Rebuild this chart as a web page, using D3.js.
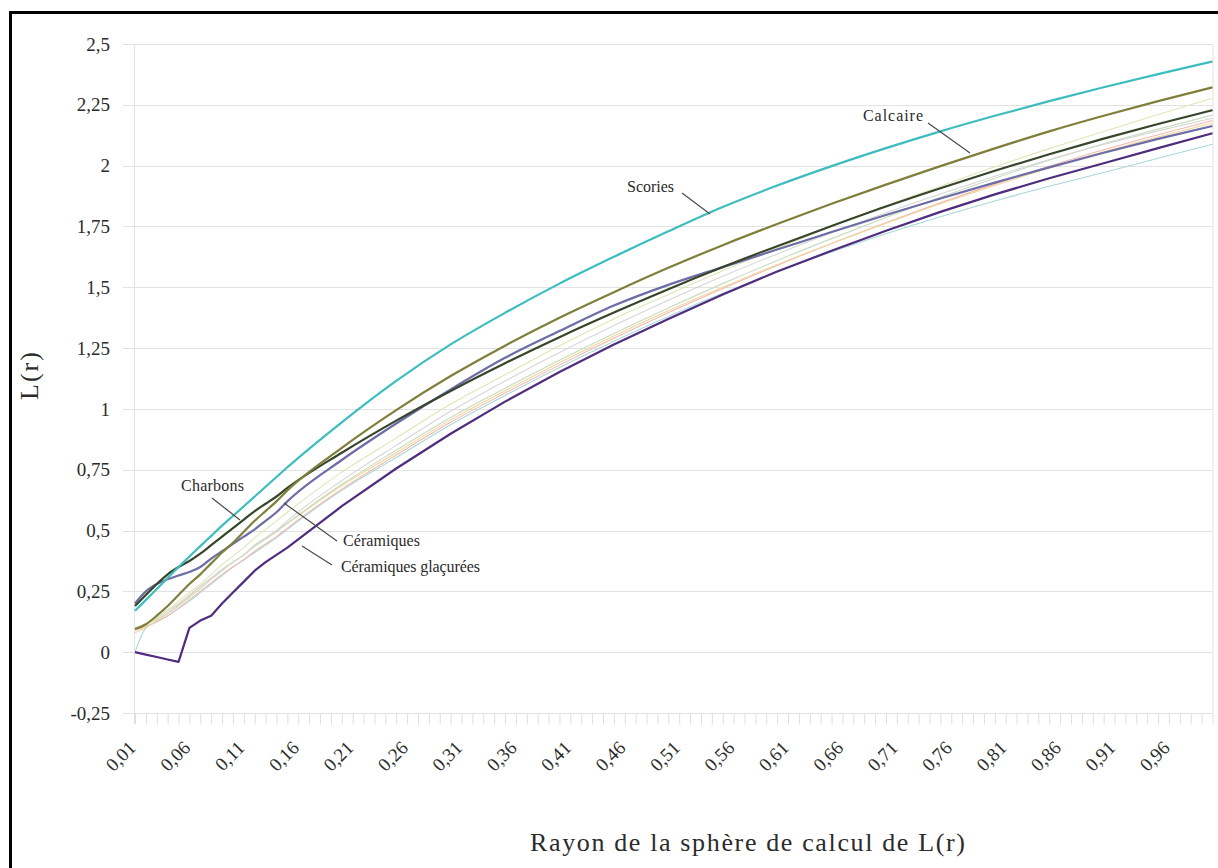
<!DOCTYPE html>
<html>
<head>
<meta charset="utf-8">
<script src="https://cdn.jsdelivr.net/npm/d3@7"></script>
<style>
  body { margin: 0; background: #fff; }
  svg { display: block; }
  text { font-family: "Liberation Serif", "Times New Roman", serif; fill: #2b2b2b; }
</style>
</head>
<body>
<svg id="chart" width="1218" height="868"></svg>
<script>
// Radius of the sphere used to compute L(r)
const radii = [0.01, 0.02, 0.03, 0.04, 0.05, 0.06, 0.07, 0.08, 0.09, 0.10, 0.11, 0.12, 0.13, 0.14, 0.15,
               0.20, 0.25, 0.30, 0.35, 0.40, 0.45, 0.50, 0.55, 0.60, 0.65, 0.70, 0.75, 0.80, 0.85, 0.90, 0.95, 1.00];

// L(r) for each material
const scories   = [0.17, 0.215, 0.26, 0.305, 0.35, 0.393, 0.436, 0.478, 0.52, 0.56, 0.60, 0.64, 0.68, 0.72, 0.76,
                   0.945, 1.115, 1.265, 1.395, 1.515, 1.625, 1.73, 1.83, 1.918, 1.998, 2.072, 2.141, 2.205, 2.265, 2.322, 2.376, 2.428];
const calcaire  = [0.095, 0.115, 0.15, 0.19, 0.235, 0.28, 0.32, 0.365, 0.41, 0.45, 0.495, 0.54, 0.58, 0.62, 0.665,
                   0.84, 0.995, 1.135, 1.26, 1.375, 1.48, 1.58, 1.673, 1.76, 1.843, 1.922, 1.998, 2.071, 2.141, 2.205, 2.265, 2.322];
const charbons  = [0.19, 0.235, 0.28, 0.32, 0.35, 0.375, 0.405, 0.44, 0.475, 0.51, 0.545, 0.58, 0.61, 0.64, 0.675,
                   0.82, 0.952, 1.074, 1.188, 1.295, 1.396, 1.492, 1.583, 1.669, 1.752, 1.832, 1.907, 1.979, 2.047, 2.111, 2.171, 2.228];
const ceramiques = [0.20, 0.25, 0.28, 0.30, 0.315, 0.33, 0.35, 0.385, 0.415, 0.445, 0.475, 0.505, 0.54, 0.575, 0.62,
                   0.79, 0.94, 1.08, 1.21, 1.32, 1.425, 1.51, 1.583, 1.655, 1.727, 1.797, 1.865, 1.93, 1.993, 2.053, 2.11, 2.163];
const glacurees = [0.0, -0.01, -0.02, -0.03, -0.04, 0.10, 0.13, 0.15, 0.20, 0.245, 0.29, 0.335, 0.37, 0.40, 0.43,
                   0.60, 0.755, 0.898, 1.03, 1.152, 1.265, 1.37, 1.47, 1.565, 1.65, 1.732, 1.81, 1.882, 1.948, 2.01, 2.072, 2.133];

// Other samples (unlabelled, thin lines)
const echantillonA = [0.09, 0.11, 0.14, 0.175, 0.21, 0.245, 0.28, 0.32, 0.36, 0.395, 0.43, 0.47, 0.505, 0.54, 0.575,
                      0.74, 0.88, 1.02, 1.14, 1.26, 1.37, 1.47, 1.568, 1.66, 1.75, 1.835, 1.915, 1.995, 2.07, 2.14, 2.21, 2.277];
const echantillonB = [0.10, 0.115, 0.135, 0.16, 0.19, 0.225, 0.26, 0.30, 0.335, 0.37, 0.40, 0.435, 0.465, 0.495, 0.53,
                      0.69, 0.83, 0.965, 1.085, 1.20, 1.31, 1.415, 1.515, 1.61, 1.70, 1.787, 1.87, 1.948, 2.022, 2.09, 2.15, 2.208];
const echantillonC = [0.09, 0.105, 0.125, 0.15, 0.18, 0.215, 0.25, 0.285, 0.32, 0.35, 0.38, 0.415, 0.445, 0.475, 0.51,
                      0.67, 0.81, 0.945, 1.065, 1.18, 1.29, 1.395, 1.495, 1.59, 1.68, 1.765, 1.847, 1.924, 1.997, 2.065, 2.127, 2.185];
const echantillonD = [0.08, 0.10, 0.13, 0.16, 0.195, 0.23, 0.27, 0.305, 0.34, 0.37, 0.40, 0.44, 0.47, 0.50, 0.53,
                      0.685, 0.82, 0.955, 1.075, 1.19, 1.30, 1.403, 1.50, 1.593, 1.68, 1.763, 1.843, 1.918, 1.99, 2.057, 2.118, 2.175];
const echantillonE = [0.09, 0.115, 0.14, 0.17, 0.20, 0.235, 0.27, 0.305, 0.34, 0.37, 0.40, 0.44, 0.47, 0.50, 0.54,
                      0.705, 0.85, 0.99, 1.115, 1.232, 1.343, 1.447, 1.545, 1.637, 1.724, 1.806, 1.883, 1.956, 2.025, 2.087, 2.143, 2.195];
const echantillonF = [0.0, 0.10, 0.125, 0.15, 0.18, 0.21, 0.245, 0.28, 0.315, 0.35, 0.38, 0.41, 0.44, 0.47, 0.505,
                      0.665, 0.80, 0.935, 1.055, 1.17, 1.278, 1.38, 1.475, 1.563, 1.645, 1.72, 1.79, 1.855, 1.915, 1.972, 2.03, 2.088];

// Axis ticks
const yTicks = [-0.25, 0, 0.25, 0.5, 0.75, 1, 1.25, 1.5, 1.75, 2, 2.25, 2.5];
const yTickLabels = ["-0,25", "0", "0,25", "0,5", "0,75", "1", "1,25", "1,5", "1,75", "2", "2,25", "2,5"];
const xTickLabels = ["0,01", "0,06", "0,11", "0,16", "0,21", "0,26", "0,31", "0,36", "0,41", "0,46",
                     "0,51", "0,56", "0,61", "0,66", "0,71", "0,76", "0,81", "0,86", "0,91", "0,96"];

const svg = d3.select("#chart");

const x = d3.scaleLinear().domain([0.01, 1.00]).range([135, 1212.5]);
const y = d3.scaleLinear().domain([-0.25, 2.5]).range([713, 44]);

// Outer frame
svg.append("rect")
  .attr("x", 10.5).attr("y", 12.5)
  .attr("width", 1400).attr("height", 1000)
  .attr("fill", "none").attr("stroke", "#000").attr("stroke-width", 3);

// Horizontal gridlines, extended left of the axis as outside ticks
svg.append("g")
  .selectAll("line")
  .data(yTicks)
  .join("line")
  .attr("x1", 123).attr("x2", x(1.00))
  .attr("y1", d => Math.round(y(d)) + 0.5).attr("y2", d => Math.round(y(d)) + 0.5)
  .attr("stroke", "#e2e2e2").attr("stroke-width", 1);

// Vertical edges of the plot area
svg.append("line")
  .attr("x1", x(0.01) - 0.5).attr("x2", x(0.01) - 0.5)
  .attr("y1", y(2.5)).attr("y2", y(-0.25) + 11)
  .attr("stroke", "#e2e2e2");
svg.append("line")
  .attr("x1", x(1.00) + 0.5).attr("x2", x(1.00) + 0.5)
  .attr("y1", y(2.5)).attr("y2", y(-0.25))
  .attr("stroke", "#e2e2e2");

// Category ticks along the bottom axis
const categoryTicks = d3.range(1, 101).map(k => k / 100);
const xAxis = svg.append("g")
  .attr("transform", `translate(0,${Math.round(y(-0.25)) + 0.5})`)
  .call(d3.axisBottom(x).tickValues(categoryTicks).tickSize(11).tickFormat(""));
xAxis.select(".domain").remove();
xAxis.selectAll(".tick line").attr("stroke", "#dedede");

// Y tick labels
svg.append("g")
  .selectAll("text")
  .data(yTicks)
  .join("text")
  .attr("x", 110)
  .attr("y", d => y(d))
  .attr("dy", "0.35em")
  .attr("text-anchor", "end")
  .attr("font-size", 19)
  .text((d, i) => yTickLabels[i]);

// X tick labels, rotated
svg.append("g")
  .selectAll("text")
  .data(xTickLabels)
  .join("text")
  .attr("transform", d => `translate(${x(+d.replace(",", ".")) + 2},${749}) rotate(-45)`)
  .attr("text-anchor", "end")
  .attr("font-size", 19)
  .text(d => d);

// Axis titles
svg.append("text")
  .attr("transform", "translate(38,375) rotate(-90)")
  .attr("text-anchor", "middle")
  .attr("font-size", 26)
  .attr("letter-spacing", 2)
  .text("L(r)");

svg.append("text")
  .attr("x", 530).attr("y", 851)
  .attr("font-size", 26)
  .attr("textLength", 435).attr("lengthAdjust", "spacing")
  .text("Rayon de la sphère de calcul de L(r)");

// Lines: smooth curves for the regular series, straight segments for the
// glazed ceramics whose first radii show a sharp drop and jump
const smoothLine = d3.line()
  .x((d, i) => x(radii[i]))
  .y(d => y(d))
  .curve(d3.curveMonotoneX);
const straightLine = d3.line()
  .x((d, i) => x(radii[i]))
  .y(d => y(d));

const thinSeries = [
  { values: echantillonF, color: "#a9d8d9" },
  { values: echantillonC, color: "#f2b9b0" },
  { values: echantillonD, color: "#f0d59c" },
  { values: echantillonB, color: "#c8dcbf" },
  { values: echantillonE, color: "#d6d6d6" },
  { values: echantillonA, color: "#dfe6b6" }
];
const boldSeries = [
  { values: glacurees, color: "#4e2d7e", straight: true },
  { values: ceramiques, color: "#6d6ca6" },
  { values: charbons, color: "#37452b" },
  { values: calcaire, color: "#7f7f3b" },
  { values: scories, color: "#3dbdbd" }
];

svg.append("g")
  .selectAll("path")
  .data(thinSeries)
  .join("path")
  .attr("d", d => smoothLine(d.values))
  .attr("fill", "none")
  .attr("stroke", d => d.color)
  .attr("stroke-width", 1.1);

svg.append("g")
  .selectAll("path")
  .data(boldSeries)
  .join("path")
  .attr("d", d => (d.straight ? straightLine : smoothLine)(d.values))
  .attr("fill", "none")
  .attr("stroke", d => d.color)
  .attr("stroke-width", 2.2)
  .attr("stroke-linejoin", "round");

// Series labels with leader lines
const annotations = [
  { text: "Scories", tx: 627, ty: 192, width: 47, lx1: 682, ly1: 193, lx2: 710, ly2: 214 },
  { text: "Calcaire", tx: 863, ty: 121, width: 60, lx1: 928, ly1: 123, lx2: 970, ly2: 153 },
  { text: "Charbons", tx: 181, ty: 491, width: 63, lx1: 212, ly1: 498, lx2: 240, ly2: 520 },
  { text: "Céramiques", tx: 343, ty: 546, width: 77, lx1: 284, ly1: 503, lx2: 337, ly2: 541 },
  { text: "Céramiques glaçurées", tx: 341, ty: 572, width: 139, lx1: 302, ly1: 546, lx2: 332, ly2: 565 }
];

const ann = svg.append("g");
ann.selectAll("line")
  .data(annotations)
  .join("line")
  .attr("x1", d => d.lx1).attr("y1", d => d.ly1)
  .attr("x2", d => d.lx2).attr("y2", d => d.ly2)
  .attr("stroke", "#4a4a4a").attr("stroke-width", 1.2);
ann.selectAll("text")
  .data(annotations)
  .join("text")
  .attr("x", d => d.tx).attr("y", d => d.ty)
  .attr("font-size", 16)
  .attr("textLength", d => d.width).attr("lengthAdjust", "spacing")
  .text(d => d.text);
</script>
</body>
</html>
